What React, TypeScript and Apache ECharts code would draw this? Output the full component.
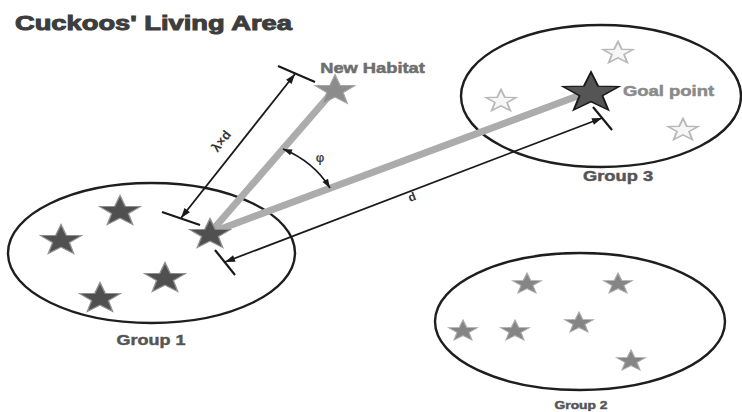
import React, { useEffect, useRef } from 'react';
import * as echarts from 'echarts';

const W = 742;
const H = 412;

const titleText = "Cuckoos' Living Area";

// Groups (ellipses) in picture units
const groupNames = ['Group 1', 'Group 2', 'Group 3'];
const groupCx = [151.5, 580, 601];
const groupCy = [253, 321.5, 96];
const groupRx = [143.5, 145, 140];
const groupRy = [70, 68.5, 71];
const groupLabelX = [151, 581, 618];
const groupLabelY = [340, 405.5, 176];

// Stars
const group1Stars = [[120, 210], [61, 239], [165, 277], [100, 297]];
const group2Stars = [[527, 283], [618, 283], [463, 330], [515, 330], [579, 322], [631, 360]];
const group3Stars = [[618, 52], [501, 100], [683, 129]];
const cuckoo = [210, 233];
const newHabitat = [335, 89];
const goalPoint = [591, 91];

const pointLabels = ['New Habitat', 'Goal point'];
const pointLabelX = [372.5, 668.5];
const pointLabelY = [68.5, 91.5];

// Flight paths (gray)
const flightFrom = [cuckoo, cuckoo];
const flightTo = [newHabitat, goalPoint];

// Dimension arrows
const dimLabels = ['λ×d', 'd'];
const dimFrom = [[181, 218], [225, 262]];
const dimTo = [[295, 74], [602, 118]];
const dimBarA = [[[162, 212], [200, 225]], [[215, 250], [235, 275]]];
const dimBarB = [[[278, 66], [315, 82]], [[593, 107], [612, 130]]];
const dimLabelPos = [[221, 141], [412, 197]];

// Angle arc φ (start, control, end)
const angleArc = [[283, 149], [313.5, 161.5], [330, 188]];
const angleLabel = 'φ';
const angleLabelPos = [320, 158];

const STAR = 'path://M50 0 L62 33.5 L97.55 34.55 L69.4 56.3 L79.39 90.45 L50 70.5 L20.61 90.45 L30.6 56.3 L2.45 34.55 L38 33.5 Z';
const FONT = '"Liberation Sans", Arial, Helvetica, sans-serif';

function arrowHead(tip: number[], from: number[], len = 10, half = 3.5) {
  const dx = tip[0] - from[0];
  const dy = tip[1] - from[1];
  const d = Math.hypot(dx, dy) || 1;
  const ux = dx / d;
  const uy = dy / d;
  const bx = tip[0] - ux * len;
  const by = tip[1] - uy * len;
  return {
    type: 'polygon',
    shape: { points: [[tip[0], tip[1]], [bx - uy * half, by + ux * half], [bx + uy * half, by - ux * half]] },
    style: { fill: '#1a1a1a' },
  };
}

export default function App() {
  const ref = useRef<HTMLDivElement>(null);

  useEffect(() => {
    document.body.style.margin = '0';
    if (!ref.current) return;
    const chart = echarts.init(ref.current, null, { renderer: 'svg' });

    const groupData = groupNames.map((_, i) => [groupCx[i], groupCy[i], groupRx[i], groupRy[i], groupLabelX[i], groupLabelY[i]]);
    const groupFont = [15, 11, 15];
    const groupScale = [1.2, 1.26, 1.22];

    const flightData = flightFrom.map((f, i) => [f[0], f[1], flightTo[i][0], flightTo[i][1]]);

    const dimData = dimLabels.map((_, i) => [
      dimFrom[i][0], dimFrom[i][1], dimTo[i][0], dimTo[i][1],
      dimBarA[i][0][0], dimBarA[i][0][1], dimBarA[i][1][0], dimBarA[i][1][1],
      dimBarB[i][0][0], dimBarB[i][0][1], dimBarB[i][1][0], dimBarB[i][1][1],
      dimLabelPos[i][0], dimLabelPos[i][1],
    ]);
    const dimFont = [13, 12];

    const arcData = [[angleArc[0][0], angleArc[0][1], angleArc[1][0], angleArc[1][1], angleArc[2][0], angleArc[2][1], angleLabelPos[0], angleLabelPos[1]]];

    const pointLabelData = pointLabels.map((_, i) => [pointLabelX[i], pointLabelY[i]]);

    const option: any = {
      animation: false,
      backgroundColor: '#ffffff',
      grid: { left: 0, right: 0, top: 0, bottom: 0 },
      xAxis: { type: 'value', min: 0, max: W, show: false },
      yAxis: { type: 'value', min: 0, max: H, inverse: true, show: false },
      graphic: [
        {
          type: 'text',
          x: 15,
          y: 23,
          scaleX: 1.3,
          z: 10,
          style: {
            text: titleText,
            font: `bold 21px ${FONT}`,
            fill: '#3d3d3d',
            stroke: '#3d3d3d',
            lineWidth: 1,
            verticalAlign: 'middle',
            align: 'left',
          },
        },
      ],
      series: [
        {
          type: 'custom',
          name: 'groups',
          z: 1,
          data: groupData,
          encode: { x: 0, y: 1 },
          renderItem: (params: any, api: any) => {
            const i = params.dataIndex;
            const c = api.coord([api.value(0), api.value(1)]);
            const s = api.size([api.value(2), api.value(3)]);
            const l = api.coord([api.value(4), api.value(5)]);
            return {
              type: 'group',
              children: [
                {
                  type: 'ellipse',
                  shape: { cx: c[0], cy: c[1], rx: Math.abs(s[0]), ry: Math.abs(s[1]) },
                  style: { fill: 'none', stroke: '#1e1e1e', lineWidth: 2.4 },
                },
                {
                  type: 'text',
                  x: l[0],
                  y: l[1],
                  scaleX: groupScale[i],
                  style: {
                    text: groupNames[i],
                    font: `bold ${groupFont[i]}px ${FONT}`,
                    fill: '#555555',
                    stroke: '#6a6a6a',
                    lineWidth: 0.5,
                    align: 'center',
                    verticalAlign: 'middle',
                  },
                },
              ],
            };
          },
        },
        {
          type: 'custom',
          name: 'flights',
          z: 2,
          data: flightData,
          encode: { x: 0, y: 1 },
          renderItem: (params: any, api: any) => {
            const a = api.coord([api.value(0), api.value(1)]);
            const b = api.coord([api.value(2), api.value(3)]);
            return {
              type: 'line',
              shape: { x1: a[0], y1: a[1], x2: b[0], y2: b[1] },
              style: { stroke: '#acacac', lineWidth: 7, lineCap: 'butt' },
            };
          },
        },
        {
          type: 'custom',
          name: 'dimensions',
          z: 3,
          data: dimData,
          encode: { x: 0, y: 1 },
          renderItem: (params: any, api: any) => {
            const i = params.dataIndex;
            const p1 = api.coord([api.value(0), api.value(1)]);
            const p2 = api.coord([api.value(2), api.value(3)]);
            const a1 = api.coord([api.value(4), api.value(5)]);
            const a2 = api.coord([api.value(6), api.value(7)]);
            const b1 = api.coord([api.value(8), api.value(9)]);
            const b2 = api.coord([api.value(10), api.value(11)]);
            const lp = api.coord([api.value(12), api.value(13)]);
            const ang = Math.atan2(-(p2[1] - p1[1]), p2[0] - p1[0]);
            return {
              type: 'group',
              children: [
                { type: 'line', shape: { x1: p1[0], y1: p1[1], x2: p2[0], y2: p2[1] }, style: { stroke: '#1a1a1a', lineWidth: 1.8 } },
                { type: 'line', shape: { x1: a1[0], y1: a1[1], x2: a2[0], y2: a2[1] }, style: { stroke: '#1a1a1a', lineWidth: 2.2 } },
                { type: 'line', shape: { x1: b1[0], y1: b1[1], x2: b2[0], y2: b2[1] }, style: { stroke: '#1a1a1a', lineWidth: 2.2 } },
                arrowHead(p1, p2),
                arrowHead(p2, p1),
                {
                  type: 'text',
                  x: lp[0],
                  y: lp[1],
                  rotation: ang,
                  style: {
                    text: dimLabels[i],
                    font: `bold ${dimFont[i]}px ${FONT}`,
                    fill: '#333333',
                    align: 'center',
                    verticalAlign: 'middle',
                  },
                },
              ],
            };
          },
        },
        {
          type: 'custom',
          name: 'angle',
          z: 3,
          data: arcData,
          encode: { x: 0, y: 1 },
          renderItem: (params: any, api: any) => {
            const s = api.coord([api.value(0), api.value(1)]);
            const c = api.coord([api.value(2), api.value(3)]);
            const e = api.coord([api.value(4), api.value(5)]);
            const lp = api.coord([api.value(6), api.value(7)]);
            return {
              type: 'group',
              children: [
                {
                  type: 'bezierCurve',
                  shape: { x1: s[0], y1: s[1], x2: e[0], y2: e[1], cpx1: c[0], cpy1: c[1] },
                  style: { fill: 'none', stroke: '#1a1a1a', lineWidth: 1.8 },
                },
                arrowHead(s, c, 9, 3.2),
                arrowHead(e, c, 9, 3.2),
                {
                  type: 'text',
                  x: lp[0],
                  y: lp[1],
                  style: {
                    text: angleLabel,
                    font: `bold 12px ${FONT}`,
                    fill: '#444444',
                    align: 'center',
                    verticalAlign: 'middle',
                  },
                },
              ],
            };
          },
        },
        {
          type: 'scatter',
          name: 'Group 1',
          z: 5,
          symbol: STAR,
          symbolSize: [41, 29],
          itemStyle: { color: '#505050', borderColor: '#909090', borderWidth: 1.2, opacity: 1 },
          data: [...group1Stars, cuckoo],
        },
        {
          type: 'scatter',
          name: 'Group 2',
          z: 5,
          symbol: STAR,
          symbolSize: [29, 20],
          itemStyle: { color: '#858585', borderColor: '#aaaaaa', borderWidth: 1, opacity: 1 },
          data: group2Stars,
        },
        {
          type: 'scatter',
          name: 'Group 3',
          z: 5,
          symbol: STAR,
          symbolSize: [30, 21],
          itemStyle: { color: '#f6f6f6', borderColor: '#b8b8b8', borderWidth: 1.6, opacity: 1 },
          data: group3Stars,
        },
        {
          type: 'scatter',
          name: 'New Habitat',
          z: 5,
          symbol: STAR,
          symbolSize: [40, 29],
          itemStyle: { color: '#8c8c8c', borderColor: '#a5a5a5', borderWidth: 1, opacity: 1 },
          data: [newHabitat],
        },
        {
          type: 'scatter',
          name: 'Goal point',
          z: 5,
          symbol: STAR,
          symbolSize: [56, 38],
          itemStyle: { color: '#555555', borderColor: '#1a1a1a', borderWidth: 1.6, opacity: 1 },
          data: [goalPoint],
        },
        {
          type: 'custom',
          name: 'pointLabels',
          z: 6,
          data: pointLabelData,
          encode: { x: 0, y: 1 },
          renderItem: (params: any, api: any) => {
            const i = params.dataIndex;
            const p = api.coord([api.value(0), api.value(1)]);
            const col = i === 0 ? '#6e6e6e' : '#8a8a8a';
            return {
              type: 'text',
              x: p[0],
              y: p[1],
              scaleX: i === 0 ? 1.22 : 1.23,
              style: {
                text: pointLabels[i],
                font: `bold 15px ${FONT}`,
                fill: col,
                stroke: col,
                lineWidth: 0.5,
                align: 'center',
                verticalAlign: 'middle',
              },
            };
          },
        },
      ],
    };

    chart.setOption(option);
    return () => {
      chart.dispose();
    };
  }, []);

  return <div ref={ref} style={{ width: W, height: H }} />;
}
